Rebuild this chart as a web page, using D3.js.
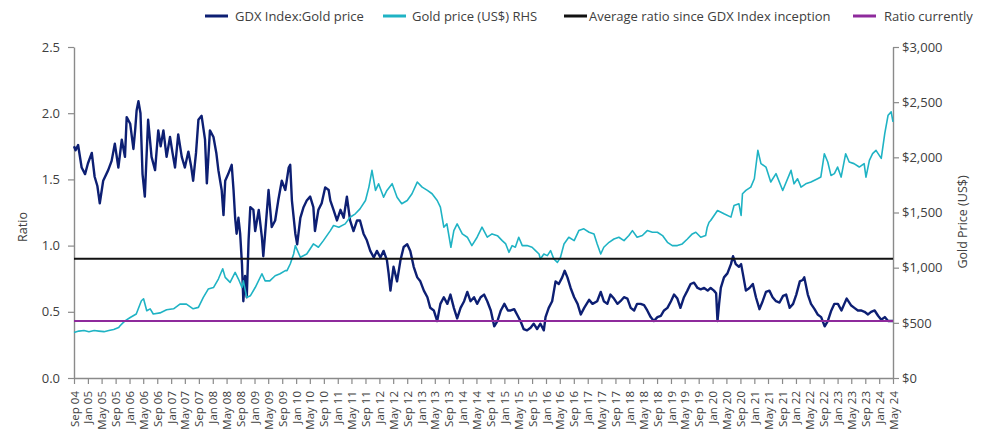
<!DOCTYPE html>
<html><head><meta charset="utf-8">
<script src="https://cdn.jsdelivr.net/npm/d3@7/dist/d3.min.js"></script>
<style>
body{margin:0;background:#fff;}
svg text{font-family:"Open Sans","Noto Sans",sans-serif;fill:#404040;}
</style></head>
<body><svg id="c" width="991" height="436"></svg>
<script>
// ---- data ----
const ratioSeries = [
["2004-09-01",1.75],["2004-09-15",1.72],["2004-10-07",1.76],["2004-11-07",1.59],["2004-12-07",1.54],
["2005-01-01",1.62],["2005-02-04",1.70],["2005-03-01",1.52],["2005-03-25",1.45],["2005-04-15",1.32],
["2005-05-15",1.49],["2005-06-28",1.57],["2005-07-28",1.64],["2005-08-25",1.77],["2005-09-25",1.59],
["2005-10-25",1.80],["2005-11-22",1.67],["2005-12-07",1.97],["2006-01-07",1.92],["2006-02-04",1.73],
["2006-02-20",1.88],["2006-03-04",2.02],["2006-03-20",2.09],["2006-04-07",2.00],["2006-04-25",1.54],
["2006-05-15",1.37],["2006-06-13",1.95],["2006-07-13",1.67],["2006-08-13",1.57],["2006-09-10",1.87],
["2006-10-01",1.75],["2006-10-25",1.87],["2006-11-22",1.67],["2006-12-22",1.82],["2007-01-13",1.70],
["2007-02-04",1.59],["2007-03-04",1.84],["2007-04-04",1.67],["2007-05-01",1.59],["2007-06-01",1.71],
["2007-06-25",1.60],["2007-07-13",1.49],["2007-08-07",1.70],["2007-08-28",1.95],["2007-09-25",1.98],
["2007-10-25",1.80],["2007-11-10",1.47],["2007-12-07",1.87],["2008-01-07",1.82],["2008-02-01",1.70],
["2008-02-19",1.57],["2008-03-19",1.42],["2008-04-04",1.23],["2008-04-19",1.49],["2008-05-15",1.54],
["2008-06-15",1.61],["2008-07-01",1.42],["2008-07-15",1.21],["2008-07-28",1.09],["2008-08-13",1.21],
["2008-08-28",1.09],["2008-09-13",0.86],["2008-09-25",0.58],["2008-10-10",0.77],["2008-10-25",0.61],
["2008-11-10",1.04],["2008-11-25",1.29],["2008-12-22",1.27],["2009-01-07",1.11],["2009-02-07",1.27],
["2009-03-07",1.06],["2009-03-19",0.92],["2009-04-04",1.09],["2009-05-04",1.42],["2009-06-01",1.14],
["2009-07-01",1.19],["2009-07-28",1.34],["2009-08-28",1.49],["2009-09-28",1.42],["2009-10-28",1.59],
["2009-11-10",1.61],["2009-11-25",1.34],["2009-12-25",1.09],["2010-01-10",1.01],["2010-02-07",1.21],
["2010-03-07",1.29],["2010-04-04",1.34],["2010-05-04",1.37],["2010-06-01",1.29],["2010-06-15",1.11],
["2010-07-15",1.27],["2010-08-13",1.32],["2010-09-13",1.44],["2010-10-13",1.42],["2010-10-28",1.34],
["2010-11-25",1.27],["2010-12-25",1.19],["2011-01-25",1.27],["2011-02-22",1.21],["2011-03-22",1.37],
["2011-04-19",1.19],["2011-05-19",1.11],["2011-06-19",1.19],["2011-07-15",1.19],["2011-08-15",1.09],
["2011-09-13",1.04],["2011-10-13",0.96],["2011-11-13",0.91],["2011-12-10",0.96],["2012-01-10",0.91],
["2012-02-07",0.96],["2012-03-07",0.89],["2012-03-22",0.79],["2012-04-07",0.66],["2012-05-04",0.84],
["2012-06-04",0.73],["2012-07-04",0.89],["2012-08-01",0.99],["2012-09-01",1.01],["2012-09-28",0.96],
["2012-10-28",0.84],["2012-11-28",0.76],["2012-12-25",0.73],["2013-01-25",0.66],["2013-02-25",0.61],
["2013-03-22",0.53],["2013-04-22",0.51],["2013-05-22",0.43],["2013-06-19",0.56],["2013-07-19",0.61],
["2013-08-19",0.56],["2013-09-15",0.63],["2013-10-15",0.53],["2013-11-13",0.45],["2013-12-13",0.53],
["2014-01-13",0.58],["2014-02-10",0.65],["2014-03-10",0.58],["2014-04-10",0.61],["2014-05-07",0.56],
["2014-06-07",0.61],["2014-07-07",0.63],["2014-08-04",0.58],["2014-09-04",0.51],["2014-10-04",0.39],
["2014-11-01",0.43],["2014-12-01",0.51],["2015-01-01",0.56],["2015-02-01",0.51],["2015-02-26",0.51],
["2015-03-28",0.52],["2015-04-22",0.48],["2015-05-22",0.43],["2015-06-19",0.37],["2015-07-19",0.36],
["2015-08-19",0.38],["2015-09-15",0.41],["2015-10-15",0.37],["2015-11-13",0.41],["2015-12-13",0.36],
["2015-12-28",0.46],["2016-01-25",0.53],["2016-02-24",0.58],["2016-03-25",0.73],["2016-04-22",0.71],
["2016-05-22",0.76],["2016-06-13",0.81],["2016-07-07",0.76],["2016-08-04",0.68],["2016-09-04",0.61],
["2016-10-04",0.56],["2016-11-01",0.48],["2016-12-01",0.53],["2017-01-13",0.59],["2017-02-12",0.56],
["2017-03-25",0.58],["2017-04-25",0.65],["2017-05-22",0.58],["2017-06-22",0.56],["2017-07-19",0.63],
["2017-08-19",0.60],["2017-09-19",0.56],["2017-10-15",0.58],["2017-11-15",0.61],["2017-12-15",0.60],
["2018-01-13",0.53],["2018-02-12",0.51],["2018-03-10",0.56],["2018-04-10",0.56],["2018-05-10",0.55],
["2018-06-07",0.51],["2018-07-07",0.46],["2018-08-04",0.43],["2018-09-04",0.46],["2018-10-04",0.47],
["2018-11-01",0.51],["2018-12-01",0.53],["2019-01-01",0.58],["2019-01-28",0.63],["2019-02-26",0.60],
["2019-03-25",0.53],["2019-04-25",0.61],["2019-05-25",0.66],["2019-06-22",0.71],["2019-07-22",0.72],
["2019-08-22",0.68],["2019-09-19",0.67],["2019-10-19",0.68],["2019-11-19",0.66],["2019-12-15",0.68],
["2020-01-13",0.66],["2020-02-01",0.64],["2020-02-13",0.43],["2020-02-27",0.56],["2020-03-13",0.68],
["2020-04-10",0.76],["2020-05-10",0.79],["2020-06-10",0.86],["2020-06-28",0.92],["2020-07-22",0.86],
["2020-08-19",0.84],["2020-09-07",0.86],["2020-09-22",0.79],["2020-10-19",0.66],["2020-11-19",0.68],
["2020-12-19",0.71],["2021-01-15",0.61],["2021-02-15",0.52],["2021-03-15",0.58],["2021-04-13",0.65],
["2021-05-13",0.66],["2021-06-10",0.61],["2021-07-10",0.58],["2021-08-10",0.57],["2021-09-10",0.62],
["2021-10-07",0.63],["2021-11-07",0.53],["2021-12-07",0.56],["2022-01-04",0.63],["2022-02-04",0.73],
["2022-03-01",0.74],["2022-03-15",0.76],["2022-04-15",0.63],["2022-05-13",0.56],["2022-06-13",0.52],
["2022-07-10",0.48],["2022-08-10",0.46],["2022-09-10",0.39],["2022-10-07",0.43],["2022-11-07",0.51],
["2022-12-04",0.56],["2023-01-04",0.56],["2023-02-04",0.51],["2023-03-01",0.56],["2023-03-22",0.60],
["2023-04-28",0.55],["2023-05-28",0.53],["2023-06-28",0.51],["2023-07-25",0.51],["2023-08-25",0.50],
["2023-09-25",0.48],["2023-10-22",0.50],["2023-11-22",0.51],["2023-12-22",0.47],["2024-01-19",0.44],
["2024-02-19",0.46],["2024-03-19",0.43],["2024-05-01",0.43]
];
const goldSeries = [
["2004-09-01",412],["2004-10-13",425],["2004-11-28",430],["2005-01-10",420],["2005-02-25",430],
["2005-04-07",425],["2005-05-22",420],["2005-07-04",430],["2005-08-15",440],["2005-09-28",457],
["2005-10-10",473],["2005-11-22",518],["2006-01-07",548],["2006-03-01",580],["2006-04-15",700],
["2006-05-04",718],["2006-06-01",609],["2006-07-01",627],["2006-07-28",580],["2006-09-25",590],
["2006-11-22",618],["2007-01-22",627],["2007-03-19",670],["2007-05-15",670],["2007-07-13",627],
["2007-08-28",640],["2007-10-10",730],["2007-11-22",806],["2008-01-07",820],["2008-02-19",897],
["2008-03-28",990],["2008-04-19",912],["2008-06-01",867],["2008-07-15",957],["2008-08-13",897],
["2008-09-13",820],["2008-09-25",880],["2008-10-25",730],["2008-11-25",745],["2009-01-07",820],
["2009-03-07",945],["2009-04-04",880],["2009-05-15",880],["2009-07-01",927],["2009-08-13",945],
["2009-09-28",973],["2009-10-13",973],["2009-11-10",1033],["2009-12-10",1124],["2009-12-25",1200],
["2010-02-07",1094],["2010-04-04",1124],["2010-06-01",1215],["2010-07-15",1185],["2010-08-28",1245],
["2010-10-28",1336],["2010-11-25",1382],["2011-01-10",1367],["2011-03-07",1397],["2011-04-19",1457],
["2011-06-04",1488],["2011-07-15",1533],["2011-09-01",1609],["2011-10-01",1730],["2011-10-28",1882],
["2011-11-28",1700],["2011-12-25",1760],["2012-02-07",1639],["2012-03-07",1700],["2012-04-22",1761],
["2012-06-04",1639],["2012-07-15",1579],["2012-09-01",1609],["2012-10-13",1670],["2012-11-28",1776],
["2013-01-10",1730],["2013-02-25",1700],["2013-04-07",1670],["2013-05-22",1609],["2013-06-19",1548],
["2013-07-19",1367],["2013-08-15",1397],["2013-09-19",1185],["2013-10-15",1336],["2013-11-13",1397],
["2013-12-28",1306],["2014-02-10",1276],["2014-03-22",1200],["2014-05-07",1276],["2014-06-19",1367],
["2014-08-04",1276],["2014-09-15",1306],["2014-11-01",1290],["2014-12-13",1245],["2015-01-13",1215],
["2015-02-10",1139],["2015-03-10",1200],["2015-04-07",1185],["2015-05-07",1276],["2015-06-07",1200],
["2015-07-19",1200],["2015-09-01",1185],["2015-10-01",1155],["2015-11-01",1124],["2015-11-13",1079],
["2015-12-13",1124],["2016-01-13",1109],["2016-02-10",1155],["2016-03-10",1079],["2016-04-10",1048],
["2016-05-07",1094],["2016-06-07",1215],["2016-07-19",1276],["2016-09-04",1245],["2016-10-15",1336],
["2016-11-28",1352],["2017-01-13",1321],["2017-02-25",1306],["2017-03-25",1215],["2017-04-25",1124],
["2017-05-22",1185],["2017-07-07",1230],["2017-08-19",1260],["2017-10-01",1276],["2017-11-15",1245],
["2017-12-28",1291],["2018-01-28",1336],["2018-03-10",1276],["2018-04-25",1291],["2018-06-07",1336],
["2018-07-22",1321],["2018-09-04",1321],["2018-10-19",1291],["2018-12-01",1230],["2019-01-13",1200],
["2019-02-26",1200],["2019-04-10",1215],["2019-05-25",1260],["2019-07-07",1306],["2019-08-07",1321],
["2019-09-19",1276],["2019-11-01",1291],["2019-11-15",1367],["2019-12-01",1412],["2019-12-15",1427],
["2020-02-13",1518],["2020-04-10",1488],["2020-06-10",1458],["2020-07-07",1564],["2020-08-19",1579],
["2020-09-07",1473],["2020-09-19",1670],["2020-10-19",1700],["2020-12-01",1730],["2021-01-01",1806],
["2021-02-01",2063],["2021-02-28",1943],["2021-04-13",1912],["2021-05-25",1776],["2021-07-10",1852],
["2021-09-07",1700],["2021-11-19",1882],["2021-12-15",1760],["2022-01-15",1806],["2022-02-15",1730],
["2022-03-28",1760],["2022-05-13",1776],["2022-07-10",1806],["2022-08-07",1821],["2022-09-07",2033],
["2022-10-07",1958],["2022-11-04",1836],["2022-12-04",1852],["2023-01-01",1912],["2023-02-01",1821],
["2023-03-13",2033],["2023-04-13",1958],["2023-05-25",1943],["2023-07-10",1912],["2023-08-22",1943],
["2023-09-07",1821],["2023-10-07",1973],["2023-11-04",2033],["2023-12-04",2063],["2024-01-19",1991],
["2024-02-19",2218],["2024-03-19",2382],["2024-04-15",2412],["2024-05-01",2321]
];
const averageRatio = 0.90;
const currentRatio = 0.43;
const ratioTicks = [0, 0.5, 1.0, 1.5, 2.0, 2.5];
const goldTicks = [0, 500, 1000, 1500, 2000, 2500, 3000];
const dateDomain = ["2004-09-01", "2024-05-01"];
const legendLabels = ["GDX Index:Gold price", "Gold price (US$) RHS", "Average ratio since GDX Index inception", "Ratio currently"];
const colors = {ratio:"#0d1f73", gold:"#1fb3c4", avg:"#111111", cur:"#8e2a9c"};

// ---- chart ----
const parse = d3.utcParse("%Y-%m-%d");
const svg = d3.select("#c");
const L = 74, R = 893, T = 47, B = 378;
const x = d3.scaleUtc(dateDomain.map(parse), [L, R]);
const yL = d3.scaleLinear([0, 2.5], [B, T]);
const yR = d3.scaleLinear([0, 3000], [B, T]);

const ratio = ratioSeries.map(d => ({d: parse(d[0]), v: d[1]}));
const gold = goldSeries.map(d => ({d: parse(d[0]), v: d[1]}));

function styleAxis(g){
  g.select(".domain").attr("stroke","#8a8a8a").attr("stroke-width",1.4);
  g.selectAll(".tick line").attr("stroke","#8a8a8a").attr("stroke-width",1.2);
  g.selectAll("text").attr("fill","#404040");
}

// x axis
const xTicks = d3.utcMonth.every(4).range(parse("2004-09-01"), d3.utcDay.offset(parse("2024-05-01"),1));
const gx = svg.append("g").attr("transform",`translate(0,${B})`)
  .call(d3.axisBottom(x).tickValues(xTicks).tickFormat(d3.utcFormat("%b %y")).tickSize(6).tickSizeOuter(0));
gx.selectAll("text").attr("transform","rotate(-90)").attr("text-anchor","end")
  .attr("x",-13).attr("y",0).attr("dy","0.35em").style("font-size","11.5px");
styleAxis(gx);

// left axis
const gl = svg.append("g").attr("transform",`translate(${L},0)`)
  .call(d3.axisLeft(yL).tickValues(ratioTicks).tickFormat(d3.format(".1f")).tickSize(6).tickPadding(8).tickSizeOuter(0));
gl.selectAll("text").style("font-size","13px");
styleAxis(gl);

// right axis
const gr = svg.append("g").attr("transform",`translate(${R},0)`)
  .call(d3.axisRight(yR).tickValues(goldTicks).tickFormat(d => "$" + d3.format(",")(d)).tickSize(6).tickPadding(3).tickSizeOuter(0));
gr.selectAll("text").style("font-size","13px");
styleAxis(gr);

svg.append("text").attr("transform","translate(27,227) rotate(-90)").attr("text-anchor","middle")
  .style("font-size","12.5px").text("Ratio");
svg.append("text").attr("transform","translate(967,222) rotate(-90)").attr("text-anchor","middle")
  .style("font-size","12.5px").text("Gold Price (US$)");

// series
const lineL = d3.line().x(d => x(d.d)).y(d => yL(d.v));
const lineR = d3.line().x(d => x(d.d)).y(d => yR(d.v));
svg.append("path").datum(ratio).attr("d", lineL).attr("fill","none")
  .attr("stroke", colors.ratio).attr("stroke-width", 2.4).attr("stroke-linejoin","round");
svg.append("path").datum(gold).attr("d", lineR).attr("fill","none")
  .attr("stroke", colors.gold).attr("stroke-width", 1.6).attr("stroke-linejoin","round");
svg.append("line").attr("x1",L).attr("x2",R).attr("y1",yL(averageRatio)).attr("y2",yL(averageRatio))
  .attr("stroke",colors.avg).attr("stroke-width",2);
svg.append("line").attr("x1",L).attr("x2",R).attr("y1",yL(currentRatio)).attr("y2",yL(currentRatio))
  .attr("stroke",colors.cur).attr("stroke-width",2);

// legend
const legendPos = [[205,235],[383,412],[564,589],[853,884]];
const legendCols = [colors.ratio, colors.gold, colors.avg, colors.cur];
legendLabels.forEach((t,i) => {
  const [lx, tx] = legendPos[i];
  svg.append("line").attr("x1",lx).attr("x2",lx+23).attr("y1",16).attr("y2",16)
    .attr("stroke",legendCols[i]).attr("stroke-width",3);
  svg.append("text").attr("x",tx).attr("y",16).attr("dy","0.35em").style("font-size","13px").text(t);
});
</script></body></html>
